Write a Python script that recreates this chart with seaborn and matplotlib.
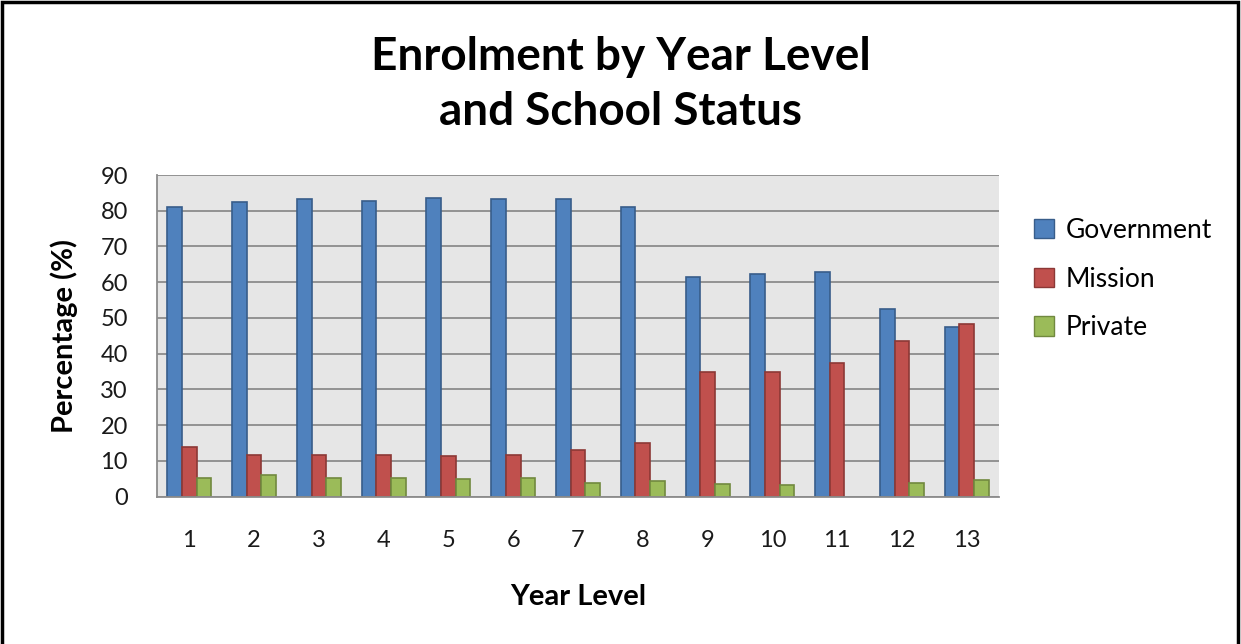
import numpy as np
import pandas as pd
import matplotlib
matplotlib.use("Agg")
import matplotlib.pyplot as plt
import seaborn as sns
from matplotlib.patches import Rectangle, Patch

# values
year_levels = [str(i) for i in range(1, 14)]
government = [81.0, 82.5, 83.2, 82.8, 83.5, 83.2, 83.2, 81.0, 61.6, 62.3, 63.0, 52.5, 47.6]
mission = [14.0, 11.8, 11.8, 11.8, 11.5, 11.8, 13.2, 15.1, 35.0, 35.0, 37.5, 43.6, 48.3]
private = [5.3, 6.1, 5.3, 5.3, 4.9, 5.3, 3.9, 4.3, 3.6, 3.3, np.nan, 3.9, 4.7]
statuses = ["Government", "Mission", "Private"]

fills = ["#4F81BD", "#C0504D", "#9BBB59"]
edges = ["#385D8A", "#8C3836", "#71893F"]

df = pd.DataFrame({
    "Year Level": year_levels * 3,
    "Percentage": government + mission + private,
    "Status": [s for s in statuses for _ in year_levels],
})

sns.set_style("white")
plt.rcParams["font.family"] = ["Lato", "DejaVu Sans"]
plt.rcParams["text.color"] = "black"
plt.rcParams["axes.labelcolor"] = "black"
plt.rcParams["xtick.color"] = "black"
plt.rcParams["ytick.color"] = "black"

fig = plt.figure(figsize=(12.41, 6.44), dpi=100)
ax = fig.add_axes([157 / 1241, 1 - 496.7 / 644, 842 / 1241, 321.7 / 644])

sns.barplot(data=df, x="Year Level", y="Percentage", hue="Status",
            order=year_levels, hue_order=statuses, palette=fills,
            saturation=1, width=0.68, gap=0, errorbar=None, ax=ax,
            linewidth=1.2, legend=False)
for cont, ec in zip(ax.containers, edges):
    for bar in cont:
        bar.set_edgecolor(ec)

ax.set_facecolor("#E6E6E6")
ax.set_ylim(0, 90)
ax.set_yticks(range(0, 91, 10))
ax.set_xlim(-0.5, 12.5)
ax.grid(axis="y", color="#8C8C8C", linewidth=1.3)
ax.set_axisbelow(True)
for s in ["top", "right"]:
    ax.spines[s].set_visible(False)
for s in ["left", "bottom"]:
    ax.spines[s].set_color("#8C8C8C")
    ax.spines[s].set_linewidth(1.3)

ax.tick_params(axis="y", length=7, width=1.3, color="#8C8C8C", labelcolor="#1a1a1a",
               pad=14, labelsize=17)
ax.tick_params(axis="x", length=0, pad=24, labelsize=17, labelcolor="#1a1a1a")

ax.set_xlabel("Year Level", fontsize=21, fontweight="bold", labelpad=24)
ax.set_ylabel("Percentage (%)", fontsize=21, fontweight="bold", labelpad=16)

fig.text(0.5, 0.912, "Enrolment by Year Level", ha="center", va="center",
         fontsize=33, fontweight="bold")
fig.text(0.5, 0.826, "and School Status", ha="center", va="center",
         fontsize=33, fontweight="bold")

handles = [Patch(facecolor=f, edgecolor=e, label=s) for f, e, s in zip(fills, edges, statuses)]
fig.legend(handles=handles, loc="upper left", bbox_to_anchor=(1010 / 1241, 1 - 194 / 644),
           frameon=False, fontsize=19, handlelength=0.75, handleheight=0.75,
           labelspacing=0.9, handletextpad=0.45)

# outer chart frame
fig.add_artist(Rectangle((2 / 1241, -0.1), 1 - 5 / 1241, 1.1 - 2 / 644,
                         transform=fig.transFigure, fill=False,
                         edgecolor="black", linewidth=2.5))

fig.savefig("out.png", dpi=100, facecolor="white")
